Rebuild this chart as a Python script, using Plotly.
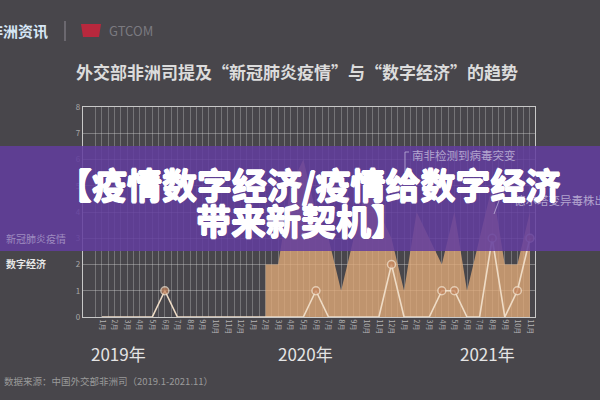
import plotly.graph_objects as go

# ---------------- data ----------------
month_idx = list(range(35))
month_labels = ["1月", "2月", "3月", "4月", "5月", "6月", "7月", "8月", "9月", "10月", "11月", "12月",
                "1月", "2月", "3月", "4月", "5月", "6月", "7月", "8月", "9月", "10月", "11月", "12月",
                "1月", "2月", "3月", "4月", "5月", "6月", "7月", "8月", "9月", "10月", "11月"]
covid = [None, None, None, None, None, None, None, None, None, None, None, None,
         None, 2, 2, 5, 6, 4, 3, 1, 3, 5, 4, 3,
         1, 4, 3, 2, 4, 1, 3, 5, 2, 2, 4]
digital = [0, 0, 0, 0, 0, 1, 0, 0, 0, 0, 0, 0,
           0, 0, 0, 0, 0, 1, 0, 0, 0, 0, 0, 2,
           0, 0, 0, 1, 1, 0, 0, 3, 0, 1, 3]
y_ticks = [0, 1, 2, 3, 4, 5, 6, 7, 8]
years = ["2019年", "2020年", "2021年"]
series_names = ["新冠肺炎疫情", "数字经济"]

# ---------------- geometry helpers ----------------
W, H = 600, 400
L, R, T, B = 83, 535, 107, 317


def px(x):
    return (x - L) / (R - L)


def py(y):
    return (B - y) / (B - T)


BG = "#48464b"
FONT = "Noto Sans CJK SC"

fig = go.Figure()

fig.add_trace(go.Scatter(
    x=month_idx, y=covid, mode="lines", name=series_names[0],
    line=dict(width=0, color="rgba(224,170,120,0.78)"),
    fill="tozeroy", fillcolor="rgba(224,170,120,0.78)",
    connectgaps=False, hoverinfo="skip",
))

fig.add_trace(go.Scatter(
    x=month_idx, y=digital, mode="lines+markers", name=series_names[1],
    line=dict(width=1.6, color="#efdcc6"),
    marker=dict(size=[8 if v > 0 else 0 for v in digital], color="#c3825a",
                line=dict(color="#f3e3cf", width=1.5)),
    hoverinfo="skip",
))

grid_c = "rgba(215,215,215,0.32)"
fig.update_xaxes(
    range=[-1.5, 34.4], tickmode="array", tickvals=month_idx, ticktext=month_labels,
    tickangle=90, tickfont=dict(size=7, color="#b4b4b4", family=FONT),
    showgrid=True, gridcolor=grid_c, gridwidth=1, zeroline=False,
    showline=True, linecolor="#c8c8c8", linewidth=1.2, mirror=True, ticks="",
    minor=dict(tickmode="array", tickvals=[i + 0.5 for i in range(-2, 35)],
               showgrid=True, gridcolor=grid_c, gridwidth=1),
)
fig.update_yaxes(
    range=[0, 8], tickmode="array", tickvals=y_ticks,
    tickfont=dict(size=8, color="#a8a8a8", family=FONT),
    showgrid=True, gridcolor="rgba(215,215,215,0.38)", gridwidth=1, zeroline=False,
    showline=True, linecolor="#c8c8c8", linewidth=1.2, mirror=True, ticks="",
)

shapes = []
# purple banner across the chart
shapes.append(dict(type="rect", xref="paper", yref="paper", layer="above",
                   x0=px(0), x1=px(W), y0=py(251), y1=py(146),
                   fillcolor="rgba(98,60,158,0.86)", line=dict(width=0)))
# logo separator
shapes.append(dict(type="line", xref="paper", yref="paper",
                   x0=px(65), x1=px(65), y0=py(21), y1=py(41),
                   line=dict(color="#77757b", width=1.5)))
# red logo icon
shapes.append(dict(type="path", xref="paper", yref="paper",
                   path="M {a},{b} L {c},{d} L {e},{f} L {g},{h} Z".format(
                       a=px(81), b=py(24), c=px(101), d=py(24), e=px(99), f=py(37), g=px(83), h=py(37)),
                   fillcolor="#b8283d", line=dict(width=0)))
# leader lines of event annotations (faint under banner)
lead_c = "rgba(200,190,225,0.7)"
shapes.append(dict(type="line", xref="paper", yref="paper",
                   x0=px(405), x1=px(409), y0=py(152), y1=py(152), line=dict(color=lead_c, width=1)))
shapes.append(dict(type="line", xref="paper", yref="paper",
                   x0=px(405), x1=px(405), y0=py(152), y1=py(172), line=dict(color=lead_c, width=1)))
shapes.append(dict(type="line", xref="paper", yref="paper",
                   x0=px(500), x1=px(505), y0=py(198), y1=py(198), line=dict(color=lead_c, width=1)))
shapes.append(dict(type="line", xref="paper", yref="paper",
                   x0=px(500), x1=px(494), y0=py(198), y1=py(214), line=dict(color=lead_c, width=1)))

ann = []


def text(x, y, s, size, color, anchor="center", bold=False, shadow=None):
    f = dict(size=size, color=color, family=FONT)
    if bold:
        f["weight"] = "bold"
    if shadow:
        f["shadow"] = shadow
    ann.append(dict(xref="paper", yref="paper", x=px(x), y=py(y), text=s, showarrow=False,
                    xanchor=anchor, yanchor="middle", font=f))


# logo
text(50, 31, "非洲资讯", 15, "#d6e6f6", anchor="right", bold=True)
text(107, 31, "GTCOM", 13, "#7b7a80", anchor="left")
# title
text(297, 72, "外交部非洲司提及“新冠肺炎疫情”与“数字经济”的趋势", 17, "#dcdcdc", bold=True)
# series labels on the left
text(4, 238, series_names[0], 10, "#9f8cc0", anchor="left")
text(4, 263, series_names[1], 10, "#e6e6e6", anchor="left", bold=True)
# event annotations
text(410, 155, "南非检测到病毒突变", 11.5, "#b3a5cf", anchor="left")
text(512, 200, "德尔塔变异毒株出现", 11.5, "#b3a5cf", anchor="left")
# year labels
for yr, xpos in zip(years, [118, 305, 487]):
    text(xpos, 353, yr, 17, "#e4e4e4")
# source
text(2, 381, "数据来源：中国外交部非洲司（2019.1-2021.11）", 9.5, "#9a9a9a", anchor="left")
# banner headline (extra-heavy look via a thin white text-shadow)
heavy = "0.8px 0 0 #ffffff, -0.8px 0 0 #ffffff, 0 0.8px 0 #ffffff, 0 -0.8px 0 #ffffff"
text(309, 183, "【疫情数字经济/疫情给数字经济", 35, "#ffffff", bold=True, shadow=heavy)
text(301, 219, "带来新契机】", 35, "#ffffff", bold=True, shadow=heavy)

fig.update_layout(
    width=W, height=H, autosize=False,
    margin=dict(l=L, r=W - R, t=T, b=H - B, pad=0),
    paper_bgcolor=BG, plot_bgcolor=BG,
    showlegend=False, shapes=shapes, annotations=ann,
    font=dict(family=FONT),
)

fig.write_html("out.html", config={"displayModeBar": False},
               post_script="document.body.style.margin='0';")
